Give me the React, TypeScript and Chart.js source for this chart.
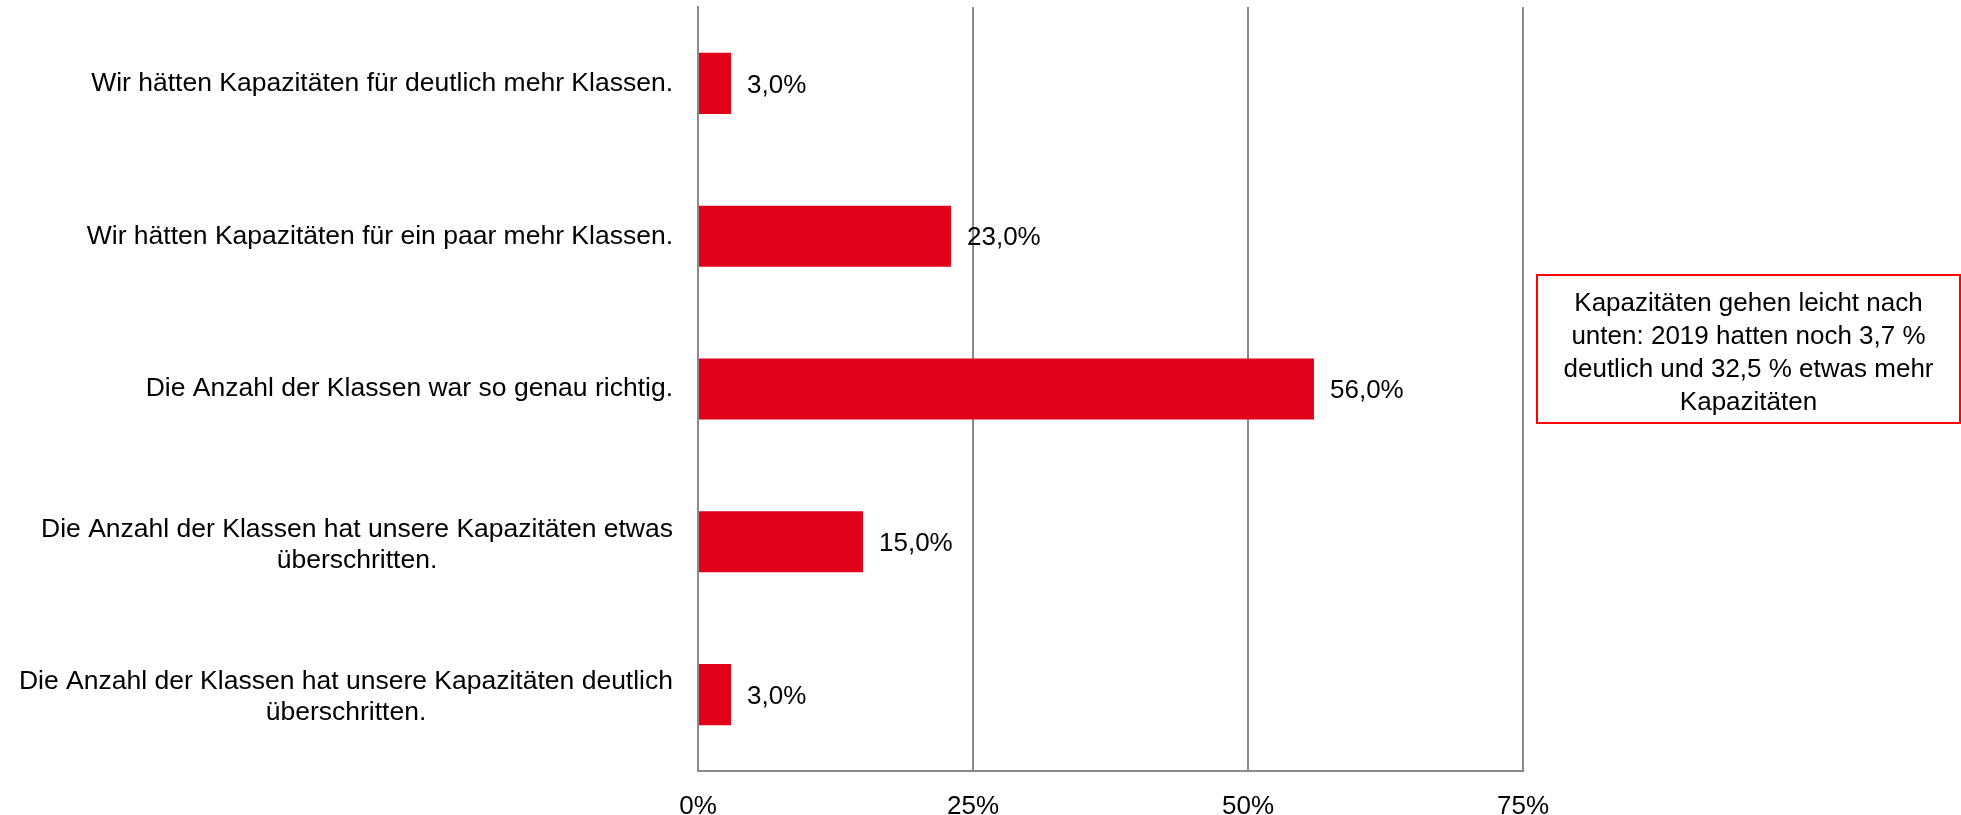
import React, { useEffect, useRef } from "react";
import { Chart, registerables } from "chart.js";

Chart.register(...registerables);

const categories: string[][] = [
  ["Wir hätten Kapazitäten für deutlich mehr Klassen."],
  ["Wir hätten Kapazitäten für ein paar mehr Klassen."],
  ["Die Anzahl der Klassen war so genau richtig."],
  ["Die Anzahl der Klassen hat unsere Kapazitäten etwas", "überschritten."],
  ["Die Anzahl der Klassen hat unsere Kapazitäten deutlich", "überschritten."],
];
const values: number[] = [3, 23, 56, 15, 3];
const xTickValues: number[] = [0, 25, 50, 75];
const noteLines: string[] = [
  "Kapazitäten gehen leicht nach",
  "unten: 2019 hatten noch 3,7 %",
  "deutlich und 32,5 % etwas mehr",
  "Kapazitäten",
];

const FONT = "'Liberation Sans', Arial, sans-serif";
const RED = "#e2001a";
const GRID = "#8a8a8a";

const fmt = (v: number) => v.toFixed(1).replace(".", ",") + "%";

const overlayPlugin = {
  id: "overlay",
  afterDraw(chart: any) {
    const ctx = chart.ctx as CanvasRenderingContext2D;
    const area = chart.chartArea;
    const yScale = chart.scales.y;
    const meta = chart.getDatasetMeta(0);
    ctx.save();
    ctx.fillStyle = "#000";
    ctx.textBaseline = "middle";

    // category labels (multi-line centered, block right-aligned)
    ctx.font = `26.5px ${FONT}`;
    categories.forEach((lines, i) => {
      const py = yScale.getPixelForValue(i) + (lines.length > 1 ? 3 : 0);
      const maxW = Math.max(...lines.map((l) => ctx.measureText(l).width));
      const cx = area.left - 25 - maxW / 2;
      ctx.textAlign = "center";
      lines.forEach((l, j) => {
        ctx.fillText(l, cx, py + (j - (lines.length - 1) / 2) * 31);
      });
    });

    // data labels
    ctx.font = `26px ${FONT}`;
    ctx.textAlign = "left";
    meta.data.forEach((bar: any, i: number) => {
      ctx.fillText(fmt(values[i]), bar.x + 16, bar.y + 2);
    });

    // note box
    const bx = area.right + 14;
    const by = 275;
    const bw = 423;
    const bh = 148;
    ctx.strokeStyle = "#ff0000";
    ctx.lineWidth = 2;
    ctx.strokeRect(bx, by, bw, bh);
    ctx.textAlign = "center";
    const cy = 353;
    noteLines.forEach((l, j) => {
      ctx.fillText(l, bx + bw / 2, cy + (j - (noteLines.length - 1) / 2) * 33);
    });
    ctx.restore();
  },
};

export default function App() {
  const ref = useRef<HTMLCanvasElement>(null);
  useEffect(() => {
    if (!ref.current) return;
    const chart = new Chart(ref.current, {
      type: "bar",
      data: {
        labels: categories.map((c) => c.join(" ")),
        datasets: [
          {
            data: values,
            backgroundColor: RED,
            borderWidth: 0,
            categoryPercentage: 1,
            barPercentage: 0.4,
          },
        ],
      },
      options: {
        indexAxis: "y",
        animation: false,
        responsive: false,
        maintainAspectRatio: false,
        layout: { padding: { left: 0, right: 438, top: 7, bottom: 0 } },
        plugins: { legend: { display: false }, tooltip: { enabled: false } },
        scales: {
          x: {
            min: 0,
            max: 75,
            afterBuildTicks: (s: any) => {
              s.ticks = xTickValues.map((v) => ({ value: v }));
            },
            afterFit: (s: any) => {
              s.height = 44;
            },
            ticks: {
              callback: (v: any) => `${v}%`,
              font: { family: FONT, size: 26 },
              color: "#000",
              padding: 20,
              maxRotation: 0,
            },
            grid: { color: GRID, lineWidth: 2, drawTicks: false },
            border: { color: GRID, width: 2 },
          },
          y: {
            afterFit: (s: any) => {
              s.width = 698;
            },
            ticks: { display: false },
            grid: { display: false, drawTicks: false },
            border: { color: GRID, width: 2 },
          },
        },
      },
      plugins: [overlayPlugin],
    });
    return () => chart.destroy();
  }, []);
  return (
    <div style={{ position: "fixed", left: 0, top: 0, width: 1961, height: 815, background: "#fff" }}>
      <canvas ref={ref} width={1961} height={815} style={{ width: 1961, height: 815, display: "block" }} />
    </div>
  );
}
